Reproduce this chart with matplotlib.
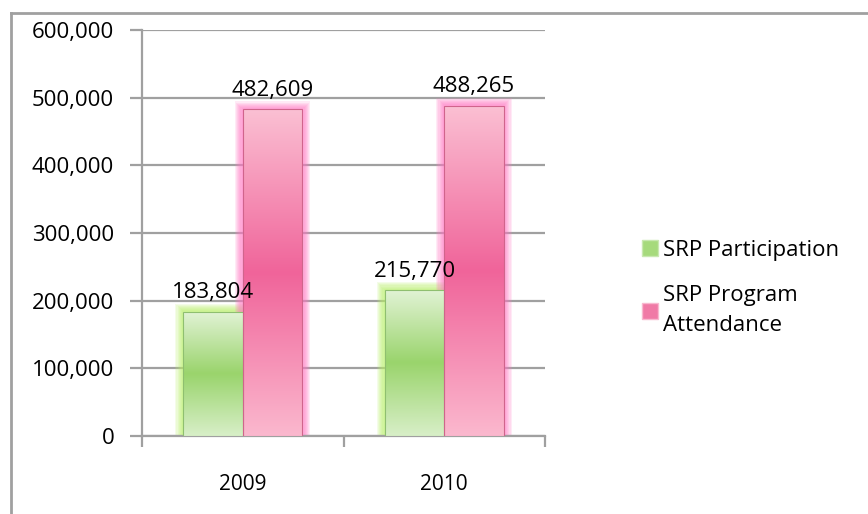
import matplotlib

matplotlib.use("Agg")
import matplotlib.pyplot as plt
import matplotlib.transforms as mtransforms
import numpy as np
from matplotlib.colors import LinearSegmentedColormap
from matplotlib.lines import Line2D
from matplotlib.patches import Rectangle

# data
years = ["2009", "2010"]
series_names = ["SRP Participation", "SRP Program\nAttendance"]
participation = [183804, 215770]
attendance = [482609, 488265]
y_ticks = [0, 100000, 200000, 300000, 400000, 500000, 600000]

plt.rcParams["font.family"] = ["Open Sans", "DejaVu Sans"]
FS = 16

GREEN = LinearSegmentedColormap.from_list(
    "green", ["#e2f3d6", "#9ad46c", "#d8efc8"])
PINK = LinearSegmentedColormap.from_list(
    "pink", ["#fbc0d3", "#f0649a", "#fbb8ce"])
GRID = "#a0a0a0"
Y_PER_X = 297800  # y data units per x data unit in pixels on this axes


def gradient_bar(ax, x, width, height, cmap, glow, edge):
    # soft glow around the bar
    for pad in np.linspace(0.04, 0.006, 7):
        ax.add_patch(Rectangle((x - pad, 0), width + 2 * pad, height + pad * Y_PER_X,
                               facecolor=glow, edgecolor="none", alpha=0.15, zorder=2))
    grad = np.linspace(0, 1, 256).reshape(-1, 1)
    im = ax.imshow(grad, cmap=cmap, aspect="auto", origin="upper",
                   extent=(x, x + width, 0, height), zorder=3)
    frame = Rectangle((x, 0), width, height, facecolor="none",
                      edgecolor=edge, linewidth=0.8, zorder=4)
    ax.add_patch(frame)
    im.set_clip_path(frame)


fig = plt.figure(figsize=(8.68, 5.14), dpi=100)
ax = fig.add_axes([142 / 868, 1 - 436 / 514, 403 / 868, 406 / 514])

bar_w = 0.295
for i, year in enumerate(years):
    left = i + 0.205
    gradient_bar(ax, left, bar_w, participation[i], GREEN, "#b8f068", "#8fbf70")
    gradient_bar(ax, left + bar_w, bar_w, attendance[i], PINK, "#ff78c4", "#d0648c")
    for xc, v in ((left + bar_w / 2, participation[i]), (left + bar_w * 1.5, attendance[i])):
        ax.annotate(f"{v:,}", (xc, v), xytext=(0, 6), textcoords="offset points",
                    ha="center", va="bottom", fontsize=FS, zorder=5)

ax.set_xlim(0, len(years))
ax.set_ylim(0, 600000)
ax.set_yticks(y_ticks)
ax.set_yticklabels([f"{v:,}" for v in y_ticks], fontsize=FS)
# labels sit a little below their gridlines in the reference
shift = mtransforms.ScaledTranslation(0, -3 / 72, fig.dpi_scale_trans)
for lbl in ax.get_yticklabels():
    lbl.set_transform(lbl.get_transform() + shift)
ax.set_xticks([0, 1, 2])
ax.set_xticklabels([])
ax.set_xticks([0.5, 1.5], minor=True)
ax.set_xticklabels(years, minor=True, fontsize=FS - 1)
ax.tick_params(axis="x", which="minor", length=0, pad=27)
ax.tick_params(axis="x", which="major", length=8, width=1.6, color=GRID, direction="out")
ax.tick_params(axis="y", length=9, width=1.6, color=GRID, pad=11)
ax.yaxis.grid(True, color=GRID, linewidth=1.6)
ax.set_axisbelow(True)
for side in ("top", "right"):
    ax.spines[side].set_visible(False)
for side in ("left", "bottom"):
    ax.spines[side].set_color(GRID)
    ax.spines[side].set_linewidth(1.6)

# legend
handles = [
    Rectangle((0, 0), 1, 1, facecolor="#a6da7c", edgecolor="#c8e8b0"),
    Rectangle((0, 0), 1, 1, facecolor="#f07aa6", edgecolor="#f8b8cf"),
]
leg = fig.legend(handles, series_names, loc="center left",
                 bbox_to_anchor=(622 / 868, 1 - 288 / 514),
                 frameon=False, fontsize=FS, handlelength=0.7, handleheight=0.7,
                 handletextpad=0.25, labelspacing=1.1)
for txt in leg.get_texts():
    txt.set_linespacing(1.55)

# outer chart frame (clipped at right and bottom in the reference)
fig.add_artist(Line2D([11 / 868, 1], [1 - 13 / 514] * 2, color=GRID, linewidth=2))
fig.add_artist(Line2D([11 / 868] * 2, [0, 1 - 13 / 514], color=GRID, linewidth=2))

fig.savefig("out.png", dpi=100)
